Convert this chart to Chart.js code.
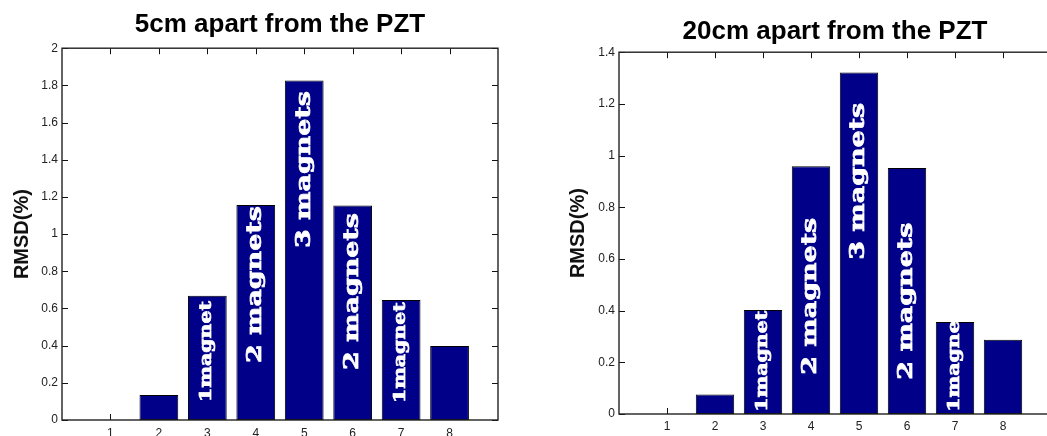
<!DOCTYPE html>
<html>
<head>
<meta charset="utf-8">
<script src="https://cdn.jsdelivr.net/npm/chart.js@4"></script>
<style>
  html, body { margin: 0; padding: 0; background: #fff; overflow: hidden; }
  #wrap { position: relative; width: 1047px; height: 436px; overflow: hidden; }
  canvas { position: absolute; top: 0; }
</style>
</head>
<body>
<div id="wrap">
  <canvas id="chart5cm" width="520" height="436" style="left:0"></canvas>
  <canvas id="chart20cm" width="540" height="436" style="left:520px"></canvas>
</div>
<script>
// bar positions and RMSD values (%)
const positions = [1, 2, 3, 4, 5, 6, 7, 8];
const rmsd5cm = [0, 0.135, 0.668, 1.156, 1.826, 1.154, 0.645, 0.398];
const rmsd20cm = [0, 0.075, 0.402, 0.959, 1.321, 0.952, 0.356, 0.287];

// text written inside the bars, and where (in RMSD units) it starts
const barLabels = [null, null, "1magnet", "2 magnets", "3 magnets", "2 magnets", "1magnet", null];
const labelStart5cm = [0, 0, 0.097, 0.306, 0.925, 0.269, 0.091, 0];
const labelStart20cm = [0, 0, 0.009, 0.152, 0.597, 0.133, 0.009, 0];
const labelSizes = [0, 0, 16, 21, 21, 21, 16, 0];

const matlabAxes = {
  id: "matlabAxes",
  beforeDatasetsDraw(chart, args, opts) {
    const { ctx, chartArea: a, scales: { x, y } } = chart;
    ctx.save();
    ctx.strokeStyle = "#111";
    ctx.lineWidth = 1;
    ctx.beginPath();
    x.ticks.forEach(t => {
      if (t.value < 1 || t.value > 8) return;
      const px = Math.round(x.getPixelForValue(t.value)) + 0.5;
      ctx.moveTo(px, a.bottom); ctx.lineTo(px, a.bottom - 6);
      ctx.moveTo(px, a.top); ctx.lineTo(px, a.top + 6);
    });
    y.ticks.forEach(t => {
      const py = Math.round(y.getPixelForValue(t.value)) + 0.5;
      ctx.moveTo(a.left, py); ctx.lineTo(a.left + 6, py);
      if (opts.rightTicks) { ctx.moveTo(a.right, py); ctx.lineTo(a.right - 6, py); }
    });
    ctx.stroke();
    ctx.restore();
  },
  afterDatasetsDraw(chart, args, opts) {
    const { ctx, chartArea: a, scales: { y } } = chart;
    const bars = chart.getDatasetMeta(0).data;
    bars.forEach((bar, i) => {
      const text = opts.labels[i];
      if (!text) return;
      const p = bar.getProps(["x", "y", "width", "base"], true);
      ctx.save();
      ctx.beginPath();
      ctx.rect(p.x - p.width / 2, p.y, p.width, p.base - p.y);
      ctx.clip();
      ctx.translate(p.x, y.getPixelForValue(opts.starts[i]));
      ctx.rotate(-Math.PI / 2);
      ctx.scale(1.28, 1);
      ctx.fillStyle = "#fff";
      ctx.strokeStyle = "#fff";
      ctx.lineWidth = 0.7;
      ctx.font = "bold " + opts.sizes[i] + "px 'DejaVu Serif', serif";
      ctx.textAlign = "left";
      ctx.textBaseline = "middle";
      ctx.fillText(text, 0, 0);
      ctx.strokeText(text, 0, 0);
      ctx.restore();
    });
    ctx.save();
    ctx.strokeStyle = "#222";
    ctx.lineWidth = 1.4;
    ctx.strokeRect(a.left, a.top, a.right - a.left, a.bottom - a.top);
    ctx.restore();
  }
};

function makeChart(id, title, values, starts, yMax, lay) {
  const ctx = document.getElementById(id);
  return new Chart(ctx.getContext("2d"), {
    type: "bar",
    data: {
      datasets: [{
        data: positions.map((p, i) => ({ x: p, y: values[i] })),
        backgroundColor: "#000088",
        borderColor: "#000",
        borderWidth: 1,
        borderSkipped: false,
        barPercentage: 0.8,
        categoryPercentage: 1,
      }],
    },
    options: {
      responsive: false,
      animation: false,
      layout: { padding: { left: 0, right: lay.right, top: 0, bottom: 0 } },
      plugins: {
        legend: { display: false },
        tooltip: { enabled: false },
        title: {
          display: true,
          text: title,
          fullSize: false,
          color: "#000",
          font: { family: "'Liberation Sans', Arial, sans-serif", size: 26, weight: "bold", lineHeight: 1.2 },
          padding: lay.titlePad,
        },
        matlabAxes: { labels: barLabels, starts: starts, sizes: labelSizes, rightTicks: lay.rightTicks },
      },
      scales: {
        x: {
          type: "linear",
          min: 0,
          max: 9,
          offset: false,
          grid: { display: false, drawTicks: false, offset: false },
          border: { display: false },
          ticks: {
            stepSize: 1,
            padding: lay.xPad,
            color: "#222",
            font: { family: "'Liberation Sans', Arial, sans-serif", size: 12 },
            callback: v => (v >= 1 && v <= 8 ? v : ""),
          },
          afterFit: s => { s.height = lay.xHeight; },
        },
        y: {
          min: 0,
          max: yMax,
          grid: { display: false, drawTicks: false },
          border: { display: false },
          ticks: {
            stepSize: 0.2,
            padding: 4,
            color: "#222",
            font: { family: "'Liberation Sans', Arial, sans-serif", size: 12 },
            callback: v => String(Math.round(v * 10) / 10),
          },
          title: {
            display: true,
            text: "RMSD(%)",
            color: "#111",
            font: { family: "'Liberation Sans', Arial, sans-serif", size: 20, weight: "bold", lineHeight: 1.2 },
            padding: { top: lay.yTitlePad, bottom: 0 },
          },
          afterFit: s => { s.width = lay.yWidth; },
        },
      },
    },
    plugins: [matlabAxes],
  });
}

makeChart("chart5cm", "5cm apart from the PZT", rmsd5cm, labelStart5cm, 2, {
  right: 22, yWidth: 62, xHeight: 16, xPad: 6, yTitlePad: 10, rightTicks: true,
  titlePad: { top: 9, bottom: 8 },
});
makeChart("chart20cm", "20cm apart from the PZT", rmsd20cm, labelStart20cm, 1.4, {
  right: 9, yWidth: 99, xHeight: 22, xPad: 5, yTitlePad: 46, rightTicks: false,
  titlePad: { top: 16, bottom: 5 },
});
</script>
</body>
</html>
